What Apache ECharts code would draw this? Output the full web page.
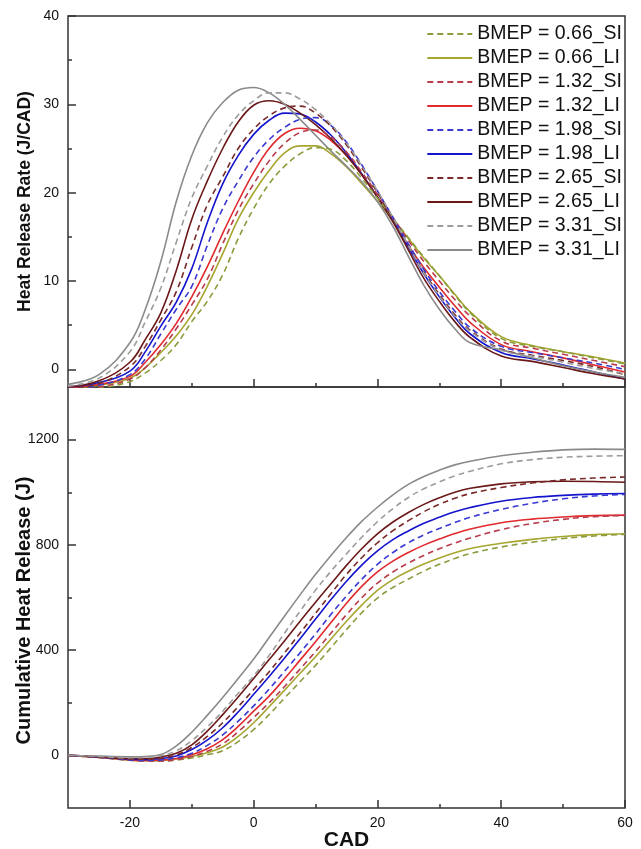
<!DOCTYPE html>
<html><head><meta charset="utf-8">
<script src="https://cdn.jsdelivr.net/npm/echarts@6/dist/echarts.min.js"></script>
<style>html,body{margin:0;padding:0;background:#fff}#c{width:641px;height:849px}</style>
</head><body><div id="c"></div>
<script>
const cad = [-30,-25,-20,-17.5,-15,-12.5,-10,-7.5,-5,-2.5,0,2.5,5,7.5,10,12.5,15,17.5,20,22.5,25,27.5,30,32.5,35,40,45,50,55,60];

const seriesNames = ['BMEP = 0.66_SI','BMEP = 0.66_LI','BMEP = 1.32_SI','BMEP = 1.32_LI','BMEP = 1.98_SI','BMEP = 1.98_LI','BMEP = 2.65_SI','BMEP = 2.65_LI','BMEP = 3.31_SI','BMEP = 3.31_LI'];

// Heat release rate (J/CAD)
const hrr066SI = [-2.5,-2.1,-1.4,-0.4,1.0,2.8,5.4,7.7,10.7,14.8,18.2,21.0,23.0,24.4,25.1,24.9,23.6,21.6,19.4,17.1,14.9,12.7,10.6,8.4,6.4,3.5,2.6,2.0,1.3,0.6];
const hrr066LI = [-2.2,-1.8,-1.0,0.2,1.9,3.8,6.2,9.4,13.1,17.0,20.0,22.5,24.5,25.3,25.3,24.4,22.9,21.0,19.0,16.9,14.8,12.6,10.6,8.5,6.5,3.7,2.7,2.0,1.4,0.7];
const hrr132SI = [-2.4,-2.0,-1.1,0.2,2.2,4.6,7.3,10.2,14.2,18.0,21.0,23.6,25.6,26.8,27.1,26.3,24.6,22.3,19.8,17.2,14.6,12.2,10.0,7.9,6.0,3.2,2.4,1.7,1.0,0.3];
const hrr132LI = [-2.1,-1.7,-0.8,0.8,2.8,5.2,8.2,11.6,15.4,19.0,22.3,25.0,26.7,27.3,27.0,25.9,24.2,22.0,19.5,16.8,14.0,11.5,9.3,7.2,5.3,2.8,2.0,1.3,0.5,-0.3];
const hrr198SI = [-2.3,-1.8,-0.6,1.2,4.0,6.8,9.4,14.0,18.2,21.3,24.0,26.0,27.4,28.3,28.5,27.6,25.7,23.1,20.2,17.2,14.2,11.3,8.8,6.6,4.7,2.6,1.9,1.3,0.7,0.0];
const hrr198LI = [-2.0,-1.5,-0.2,2.0,4.9,7.6,11.4,16.6,21.0,24.2,26.6,28.2,29.0,28.9,28.0,26.5,24.5,22.1,19.5,16.8,13.8,10.8,8.2,5.9,4.0,1.9,1.2,0.5,-0.3,-1.1];
const hrr265SI = [-2.2,-1.6,0.3,2.6,5.6,8.8,13.8,18.6,21.8,25.0,27.2,28.7,29.6,29.8,29.0,27.5,25.4,22.8,20.0,17.0,14.0,11.0,8.5,6.2,4.4,2.3,1.6,1.0,0.3,-0.6];
const hrr265LI = [-2.0,-1.3,0.8,3.4,6.4,11.2,17.0,21.3,25.0,28.0,29.9,30.4,30.0,29.0,27.7,26.1,24.2,22.0,19.5,16.7,13.5,10.3,7.7,5.4,3.6,1.5,0.9,0.2,-0.5,-1.1];
const hrr331SI = [-1.9,-1.0,2.0,5.4,9.2,14.4,19.4,23.0,26.3,28.8,30.4,31.3,31.3,30.6,29.4,27.7,25.6,23.0,20.2,17.2,14.0,10.9,8.3,6.0,4.3,2.2,1.5,0.8,0.1,-0.5];
const hrr331LI = [-1.7,-0.6,3.0,6.8,12.2,19.0,24.2,27.9,30.2,31.6,31.9,31.3,30.0,28.3,26.5,24.7,23.0,21.2,19.0,16.2,12.8,9.5,6.8,4.6,3.0,2.2,1.3,0.4,-0.3,-0.9];

// Cumulative heat release (J)
const chr066SI = [0,-8,-18,-21,-22,-18,-10,2,18,52,98,155,218,280,342,410,478,543,598,638,670,700,726,748,767,792,810,824,834,840];
const chr066LI = [0,-8,-18,-20,-19,-14,-4,10,32,72,124,185,248,312,375,442,510,572,627,668,700,727,750,770,786,806,821,832,839,842];
const chr132SI = [0,-8,-18,-21,-21,-16,-4,16,44,90,144,200,262,328,395,465,535,600,655,697,731,760,785,807,826,858,881,897,907,912];
const chr132LI = [0,-7,-17,-19,-18,-12,2,25,60,110,168,225,292,362,432,505,578,643,697,738,771,799,822,843,860,884,898,906,911,913];
const chr198SI = [0,-7,-17,-19,-17,-9,8,38,78,130,188,252,320,390,462,536,606,670,726,771,808,838,862,885,905,935,958,975,986,992];
const chr198LI = [0,-6,-15,-16,-12,-2,22,58,105,165,232,300,370,443,518,592,662,724,777,820,853,882,905,926,942,966,980,988,993,995];
const chr265SI = [0,-6,-14,-15,-11,2,30,72,124,185,250,318,390,465,540,615,688,752,808,854,892,926,954,977,995,1018,1035,1047,1054,1058];
const chr265LI = [0,-5,-12,-12,-6,8,40,92,155,222,292,364,436,510,582,652,722,786,842,887,923,954,979,1000,1015,1032,1040,1042,1041,1038];
const chr331SI = [0,-4,-9,-8,-1,18,56,108,168,236,302,380,465,548,628,700,766,830,888,938,980,1013,1039,1062,1080,1108,1124,1133,1137,1139];
const chr331LI = [0,-3,-5,-4,3,36,88,152,220,292,366,448,530,610,688,760,828,890,943,990,1030,1060,1084,1104,1118,1139,1152,1161,1164,1163];

// tick labels
const xMajor = [-20,0,20,40,60];
const xMinor = [-10,10,30,50];
const yTopMajor = [0,10,20,30,40];
const yTopMinor = [5,15,25,35];
const yBotMajor = [0,400,800,1200];
const yBotMinor = [200,600,1000];

const hrrAll = [hrr066SI,hrr066LI,hrr132SI,hrr132LI,hrr198SI,hrr198LI,hrr265SI,hrr265LI,hrr331SI,hrr331LI];
const chrAll = [chr066SI,chr066LI,chr132SI,chr132LI,chr198SI,chr198LI,chr265SI,chr265LI,chr331SI,chr331LI];
const colors = ['#8a9c3c','#a6a630','#b83c4c','#e02a2e','#3a3ad2','#1414cc','#7a2a2a','#6a1818','#9c9c9c','#8a8a8a'];
const dashed = [true,false,true,false,true,false,true,false,true,false];

const FONT = "'Liberation Sans', Arial, sans-serif";
const chart = echarts.init(document.getElementById('c'), null, {renderer:'canvas'});
const fmt = v => String(v);

function xAx(grid, ticks, len, labels){
  return {type:'value', gridIndex:grid, position:'bottom', min:-30, max:60,
    axisLine:{show:false, onZero:false}, splitLine:{show:false},
    axisTick:{show:true, inside:true, length:len, customValues:ticks, lineStyle:{color:'#333', width:1.5}},
    axisLabel:{show:!!labels, customValues:ticks, formatter:fmt, color:'#111', fontSize:14, fontFamily:FONT, margin:8}};
}
function yAx(grid, min, max, ticks, len, labels, name, nameSize, pad){
  const a = {type:'value', gridIndex:grid, position:'left', min:min, max:max,
    axisLine:{show:false, onZero:false}, splitLine:{show:false},
    axisTick:{show:true, inside:true, length:len, customValues:ticks, lineStyle:{color:'#333', width:1.5}},
    axisLabel:{show:!!labels, customValues:ticks, formatter:fmt, color:'#111', fontSize:14, fontFamily:FONT, margin:9}};
  if(name){ a.name=name; a.nameLocation='middle'; a.nameGap=34; a.nameMoveOverlap=false;
    a.nameTextStyle={fontSize:nameSize, fontWeight:'bold', color:'#111', fontFamily:FONT, padding:pad||0}; }
  return a;
}

const series = [];
seriesNames.forEach((n,k)=>{
  const ls = {color:colors[k], width:1.6, type: dashed[k] ? [6,4] : 'solid'};
  series.push({name:n, type:'line', xAxisIndex:0, yAxisIndex:0, symbol:'none', smooth:0.4,
    lineStyle:ls, itemStyle:{color:colors[k]}, data: cad.map((x,i)=>[x,hrrAll[k][i]]), z: dashed[k]?3:2});
  series.push({name:n, type:'line', xAxisIndex:2, yAxisIndex:2, symbol:'none', smooth:0.4,
    lineStyle:ls, itemStyle:{color:colors[k]}, data: cad.map((x,i)=>[x,chrAll[k][i]]), z: dashed[k]?3:2});
});

const xBot = xAx(1, xMajor, 8, true);
xBot.name = 'CAD'; xBot.nameLocation='middle'; xBot.nameGap=22; xBot.nameMoveOverlap=false;
xBot.nameTextStyle = {fontSize:21, fontWeight:'bold', color:'#111', fontFamily:FONT};

chart.setOption({
  animation:false,
  backgroundColor:'#fff',
  grid:[
    {left:68, right:16, top:16, height:371, show:true, borderColor:'#333', borderWidth:1.5, backgroundColor:'transparent', outerBoundsMode:'none', containLabel:false},
    {left:68, right:16, top:387, height:421, show:true, borderColor:'#333', borderWidth:1.5, backgroundColor:'transparent', outerBoundsMode:'none', containLabel:false}
  ],
  xAxis:[ xAx(0, xMajor, 8, false), xAx(0, xMinor, 4, false), xBot, xAx(1, xMinor, 4, false) ],
  yAxis:[
    yAx(0, -2, 40, yTopMajor, 8, true, 'Heat Release Rate (J/CAD)', 17.5),
    yAx(0, -2, 40, yTopMinor, 4, false),
    yAx(1, -200, 1400, yBotMajor, 8, true, 'Cumulative Heat Release (J)', 20, [0,26,0,0]),
    yAx(1, -200, 1400, yBotMinor, 4, false)
  ],
  legend:{data:seriesNames, orient:'vertical', right:19, top:24, itemWidth:45, itemHeight:14, itemGap:4,
    itemStyle:{opacity:0},
    textStyle:{fontSize:19.5, fontFamily:FONT, color:'#111', lineHeight:19}, padding:0},
  series:series
});
</script></body></html>
